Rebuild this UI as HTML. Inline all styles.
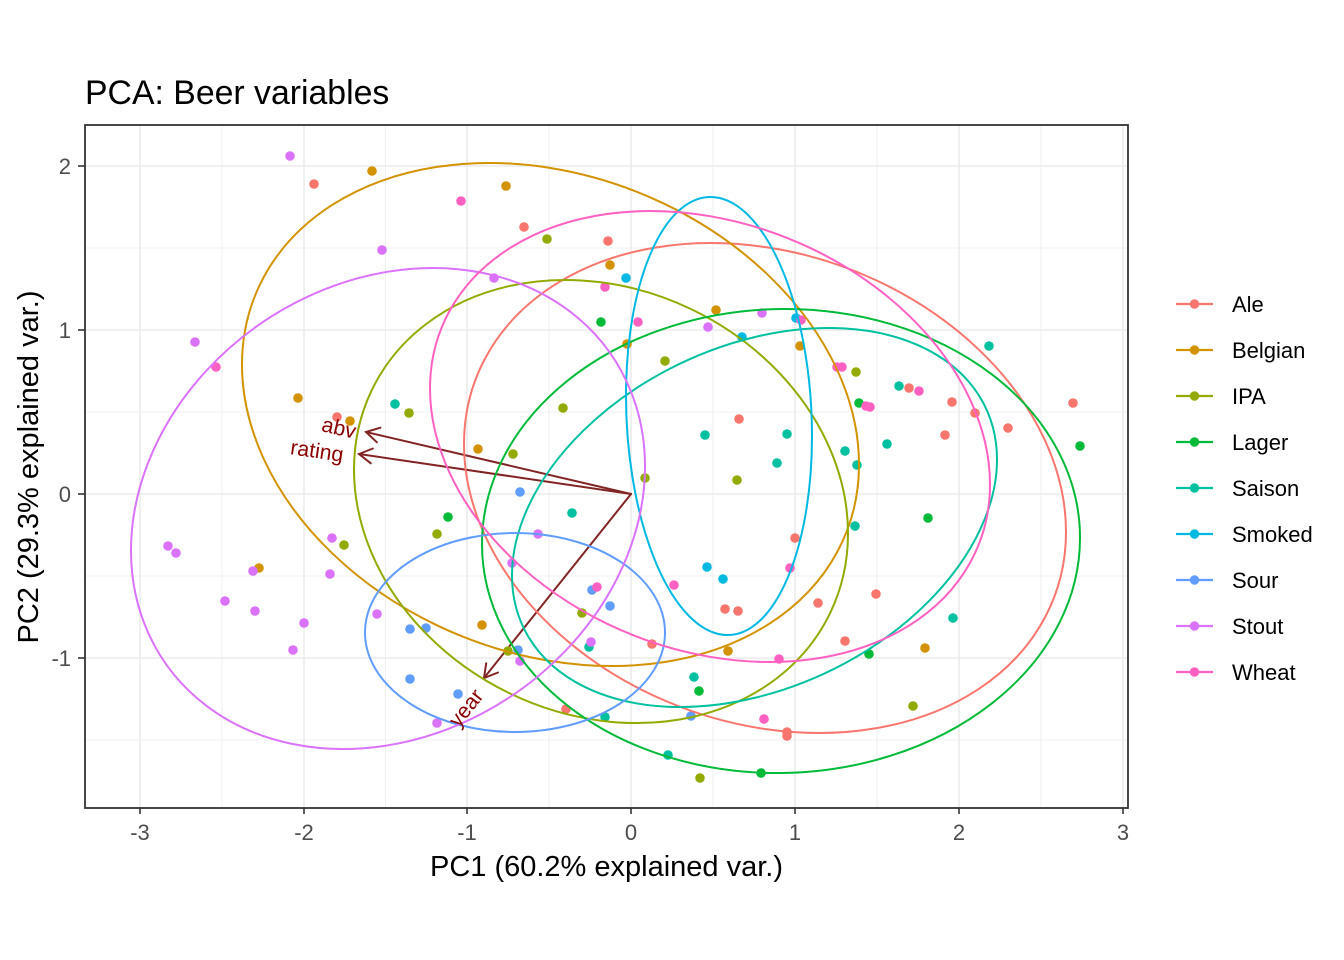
<!DOCTYPE html>
<html><head><meta charset="utf-8"><style>
html,body{margin:0;padding:0;background:#fff;}
svg{display:block;font-family:"Liberation Sans",Arial,sans-serif;}
</style></head><body>
<svg width="1344" height="960" viewBox="0 0 1344 960" xmlns="http://www.w3.org/2000/svg">
<rect x="0" y="0" width="1344" height="960" fill="#fff"/>
<text x="85" y="104" font-size="33.8" fill="#000">PCA: Beer variables</text>
<rect x="85" y="125" width="1043" height="683" fill="#fff"/>
<g stroke="#EBEBEB" stroke-width="0.8" fill="none">
<line x1="222" y1="125" x2="222" y2="808"/><line x1="385.5" y1="125" x2="385.5" y2="808"/><line x1="549" y1="125" x2="549" y2="808"/><line x1="713" y1="125" x2="713" y2="808"/><line x1="877" y1="125" x2="877" y2="808"/><line x1="1041" y1="125" x2="1041" y2="808"/>
<line x1="85" y1="248" x2="1128" y2="248"/><line x1="85" y1="412" x2="1128" y2="412"/><line x1="85" y1="576" x2="1128" y2="576"/><line x1="85" y1="740" x2="1128" y2="740"/>
</g>
<g stroke="#EBEBEB" stroke-width="1.6" fill="none">
<line x1="140" y1="125" x2="140" y2="808"/><line x1="304" y1="125" x2="304" y2="808"/><line x1="467" y1="125" x2="467" y2="808"/><line x1="631" y1="125" x2="631" y2="808"/><line x1="795" y1="125" x2="795" y2="808"/><line x1="959" y1="125" x2="959" y2="808"/><line x1="1123" y1="125" x2="1123" y2="808"/>
<line x1="85" y1="166" x2="1128" y2="166"/><line x1="85" y1="330" x2="1128" y2="330"/><line x1="85" y1="494" x2="1128" y2="494"/><line x1="85" y1="658" x2="1128" y2="658"/>
</g>
<!-- arrows -->
<g stroke="#832424" stroke-width="2" fill="none" stroke-linecap="round">
<line x1="631" y1="494" x2="366" y2="432"/><polyline points="376.9,442.3 366,432 380.4,427.7"/>
<line x1="631" y1="494" x2="359" y2="454"/><polyline points="370.8,463.3 359,454 372.9,448.5"/>
<line x1="631" y1="494" x2="484" y2="678"/><polyline points="498,672.5 484,678 486.2,663.2"/>
</g>
<!-- points -->
<g fill="#F8766D"><circle cx="314" cy="184" r="4.8"/><circle cx="337" cy="417" r="4.8"/><circle cx="524" cy="227" r="4.8"/><circle cx="608" cy="241" r="4.8"/><circle cx="739" cy="419" r="4.8"/><circle cx="909" cy="388" r="4.8"/><circle cx="952" cy="402" r="4.8"/><circle cx="1073" cy="403" r="4.8"/><circle cx="975" cy="413" r="4.8"/><circle cx="1008" cy="428" r="4.8"/><circle cx="945" cy="435" r="4.8"/><circle cx="566" cy="709" r="4.8"/><circle cx="795" cy="538" r="4.8"/><circle cx="725" cy="609" r="4.8"/><circle cx="738" cy="611" r="4.8"/><circle cx="818" cy="603" r="4.8"/><circle cx="876" cy="594" r="4.8"/><circle cx="652" cy="644" r="4.8"/><circle cx="845" cy="641" r="4.8"/><circle cx="787" cy="732" r="4.8"/><circle cx="787" cy="736" r="4.8"/></g>
<g fill="#D39200"><circle cx="298" cy="398" r="4.8"/><circle cx="350" cy="421" r="4.8"/><circle cx="372" cy="171" r="4.8"/><circle cx="506" cy="186" r="4.8"/><circle cx="610" cy="265" r="4.8"/><circle cx="478" cy="449" r="4.8"/><circle cx="716" cy="310" r="4.8"/><circle cx="627" cy="344" r="4.8"/><circle cx="800" cy="346" r="4.8"/><circle cx="259" cy="568" r="4.8"/><circle cx="482" cy="625" r="4.8"/><circle cx="728" cy="651" r="4.8"/><circle cx="925" cy="648" r="4.8"/></g>
<g fill="#93AA00"><circle cx="547" cy="239" r="4.8"/><circle cx="409" cy="413" r="4.8"/><circle cx="563" cy="408" r="4.8"/><circle cx="513" cy="454" r="4.8"/><circle cx="665" cy="361" r="4.8"/><circle cx="856" cy="372" r="4.8"/><circle cx="344" cy="545" r="4.8"/><circle cx="437" cy="534" r="4.8"/><circle cx="582" cy="613" r="4.8"/><circle cx="508" cy="651" r="4.8"/><circle cx="645" cy="478" r="4.8"/><circle cx="737" cy="480" r="4.8"/><circle cx="700" cy="778" r="4.8"/><circle cx="913" cy="706" r="4.8"/></g>
<g fill="#00BA38"><circle cx="601" cy="322" r="4.8"/><circle cx="859" cy="403" r="4.8"/><circle cx="1080" cy="446" r="4.8"/><circle cx="448" cy="517" r="4.8"/><circle cx="928" cy="518" r="4.8"/><circle cx="869" cy="654" r="4.8"/><circle cx="699" cy="691" r="4.8"/><circle cx="761" cy="773" r="4.8"/></g>
<g fill="#00C19F"><circle cx="395" cy="404" r="4.8"/><circle cx="705" cy="435" r="4.8"/><circle cx="787" cy="434" r="4.8"/><circle cx="845" cy="451" r="4.8"/><circle cx="777" cy="463" r="4.8"/><circle cx="857" cy="465" r="4.8"/><circle cx="887" cy="444" r="4.8"/><circle cx="989" cy="346" r="4.8"/><circle cx="899" cy="386" r="4.8"/><circle cx="572" cy="513" r="4.8"/><circle cx="589" cy="647" r="4.8"/><circle cx="605" cy="717" r="4.8"/><circle cx="855" cy="526" r="4.8"/><circle cx="694" cy="677" r="4.8"/><circle cx="668" cy="755" r="4.8"/><circle cx="953" cy="618" r="4.8"/></g>
<g fill="#00B9E3"><circle cx="626" cy="278" r="4.8"/><circle cx="796" cy="318" r="4.8"/><circle cx="742" cy="337" r="4.8"/><circle cx="707" cy="567" r="4.8"/><circle cx="723" cy="579" r="4.8"/></g>
<g fill="#619CFF"><circle cx="520" cy="492" r="4.8"/><circle cx="592" cy="590" r="4.8"/><circle cx="610" cy="606" r="4.8"/><circle cx="410" cy="629" r="4.8"/><circle cx="426" cy="628" r="4.8"/><circle cx="518" cy="650" r="4.8"/><circle cx="410" cy="679" r="4.8"/><circle cx="458" cy="694" r="4.8"/><circle cx="691" cy="716" r="4.8"/></g>
<g fill="#DB72FB"><circle cx="290" cy="156" r="4.8"/><circle cx="195" cy="342" r="4.8"/><circle cx="382" cy="250" r="4.8"/><circle cx="494" cy="278" r="4.8"/><circle cx="762" cy="313" r="4.8"/><circle cx="708" cy="327" r="4.8"/><circle cx="168" cy="546" r="4.8"/><circle cx="176" cy="553" r="4.8"/><circle cx="253" cy="571" r="4.8"/><circle cx="332" cy="538" r="4.8"/><circle cx="330" cy="574" r="4.8"/><circle cx="225" cy="601" r="4.8"/><circle cx="255" cy="611" r="4.8"/><circle cx="304" cy="623" r="4.8"/><circle cx="293" cy="650" r="4.8"/><circle cx="538" cy="534" r="4.8"/><circle cx="512" cy="563" r="4.8"/><circle cx="377" cy="614" r="4.8"/><circle cx="591" cy="642" r="4.8"/><circle cx="520" cy="661" r="4.8"/><circle cx="437" cy="723" r="4.8"/></g>
<g fill="#FF61C3"><circle cx="216" cy="367" r="4.8"/><circle cx="461" cy="201" r="4.8"/><circle cx="605" cy="287" r="4.8"/><circle cx="638" cy="322" r="4.8"/><circle cx="801" cy="320" r="4.8"/><circle cx="837" cy="367" r="4.8"/><circle cx="842" cy="367" r="4.8"/><circle cx="866" cy="406" r="4.8"/><circle cx="870" cy="407" r="4.8"/><circle cx="919" cy="391" r="4.8"/><circle cx="597" cy="587" r="4.8"/><circle cx="674" cy="585" r="4.8"/><circle cx="790" cy="568" r="4.8"/><circle cx="779" cy="659" r="4.8"/><circle cx="764" cy="719" r="4.8"/></g>
<!-- ellipses -->
<g fill="none" stroke-width="2">
<circle cx="0" cy="0" r="1" stroke="#F8766D" vector-effect="non-scaling-stroke" transform="matrix(301,44,0,241,765,488)"/>
<circle cx="0" cy="0" r="1" stroke="#D39200" vector-effect="non-scaling-stroke" transform="matrix(308.5,50,0,246.5,550.5,414.5)"/>
<circle cx="0" cy="0" r="1" stroke="#93AA00" vector-effect="non-scaling-stroke" transform="matrix(247,32,0,219.2,601,501.5)"/>
<circle cx="0" cy="0" r="1" stroke="#00BA38" vector-effect="non-scaling-stroke" transform="matrix(299,-3,0,232,781,541)"/>
<circle cx="0" cy="0" r="1" stroke="#00C19F" vector-effect="non-scaling-stroke" transform="matrix(242.5,-58,0,180.4,754.5,517.5)"/>
<circle cx="0" cy="0" r="1" stroke="#00B9E3" vector-effect="non-scaling-stroke" transform="matrix(93,20,0,218.1,719,416)"/>
<circle cx="0" cy="0" r="1" stroke="#619CFF" vector-effect="non-scaling-stroke" transform="matrix(150,0,0,99.5,515,632.5)"/>
<circle cx="0" cy="0" r="1" stroke="#DB72FB" vector-effect="non-scaling-stroke" transform="matrix(257,-42,0,236.8,388,508.5)"/>
<circle cx="0" cy="0" r="1" stroke="#FF61C3" vector-effect="non-scaling-stroke" transform="matrix(280,48,0,220.3,710,436.5)"/>
</g>
<!-- variable labels -->
<g fill="#8B0000" font-size="21.3" text-anchor="middle" dominant-baseline="central">
<text transform="translate(339,428) rotate(13.2)">abv</text>
<text transform="translate(317,451) rotate(8.4)">rating</text>
<text transform="translate(466,708) rotate(-51.4)">year</text>
</g>
<!-- panel border -->
<rect x="85" y="125" width="1043" height="683" fill="none" stroke="#333333" stroke-width="1.8"/>
<!-- ticks -->
<g stroke="#333333" stroke-width="1.6">
<line x1="140" y1="808" x2="140" y2="814"/><line x1="304" y1="808" x2="304" y2="814"/><line x1="467" y1="808" x2="467" y2="814"/><line x1="631" y1="808" x2="631" y2="814"/><line x1="795" y1="808" x2="795" y2="814"/><line x1="959" y1="808" x2="959" y2="814"/><line x1="1123" y1="808" x2="1123" y2="814"/>
<line x1="78" y1="166" x2="85" y2="166"/><line x1="78" y1="330" x2="85" y2="330"/><line x1="78" y1="494" x2="85" y2="494"/><line x1="78" y1="658" x2="85" y2="658"/>
</g>
<g fill="#4D4D4D" font-size="22" text-anchor="middle">
<text x="140" y="840">-3</text><text x="304" y="840">-2</text><text x="467" y="840">-1</text><text x="631" y="840">0</text><text x="795" y="840">1</text><text x="959" y="840">2</text><text x="1123" y="840">3</text>
</g>
<g fill="#4D4D4D" font-size="22" text-anchor="end">
<text x="71" y="174">2</text><text x="71" y="338">1</text><text x="71" y="502">0</text><text x="71" y="666">-1</text>
</g>
<text x="606.5" y="876" font-size="29" text-anchor="middle" fill="#000">PC1 (60.2% explained var.)</text>
<text transform="translate(38,467) rotate(-90)" font-size="29" text-anchor="middle" fill="#000">PC2 (29.3% explained var.)</text>
<!-- legend -->
<g stroke-width="2.2">
<line x1="1176" y1="304" x2="1213" y2="304" stroke="#F8766D"/><circle cx="1194.5" cy="304" r="4.7" fill="#F8766D" stroke="none"/>
<line x1="1176" y1="350" x2="1213" y2="350" stroke="#D39200"/><circle cx="1194.5" cy="350" r="4.7" fill="#D39200" stroke="none"/>
<line x1="1176" y1="396" x2="1213" y2="396" stroke="#93AA00"/><circle cx="1194.5" cy="396" r="4.7" fill="#93AA00" stroke="none"/>
<line x1="1176" y1="442" x2="1213" y2="442" stroke="#00BA38"/><circle cx="1194.5" cy="442" r="4.7" fill="#00BA38" stroke="none"/>
<line x1="1176" y1="488" x2="1213" y2="488" stroke="#00C19F"/><circle cx="1194.5" cy="488" r="4.7" fill="#00C19F" stroke="none"/>
<line x1="1176" y1="534" x2="1213" y2="534" stroke="#00B9E3"/><circle cx="1194.5" cy="534" r="4.7" fill="#00B9E3" stroke="none"/>
<line x1="1176" y1="580" x2="1213" y2="580" stroke="#619CFF"/><circle cx="1194.5" cy="580" r="4.7" fill="#619CFF" stroke="none"/>
<line x1="1176" y1="626" x2="1213" y2="626" stroke="#DB72FB"/><circle cx="1194.5" cy="626" r="4.7" fill="#DB72FB" stroke="none"/>
<line x1="1176" y1="672" x2="1213" y2="672" stroke="#FF61C3"/><circle cx="1194.5" cy="672" r="4.7" fill="#FF61C3" stroke="none"/>
</g>
<g fill="#000" font-size="22">
<text x="1232" y="312">Ale</text><text x="1232" y="358">Belgian</text><text x="1232" y="404">IPA</text><text x="1232" y="450">Lager</text><text x="1232" y="496">Saison</text><text x="1232" y="542">Smoked</text><text x="1232" y="588">Sour</text><text x="1232" y="634">Stout</text><text x="1232" y="680">Wheat</text>
</g>
</svg>
</body></html>
